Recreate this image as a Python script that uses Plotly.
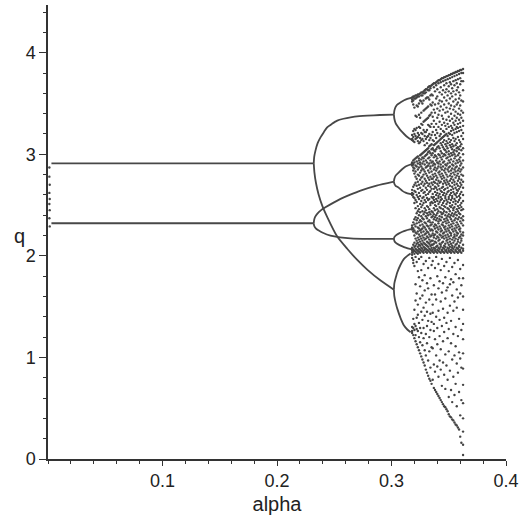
import plotly.graph_objects as go

# ---------------- orbit branches (alpha, q) ----------------
# period-2 orbit
p2_alpha = [0.003, 0.2321]
p2_upper_q = [2.911, 2.911]
p2_lower_q = [2.321, 2.321]

# transient points at the left edge
edge_alpha = [0.0012, 0.0012, 0.0015, 0.0012, 0.0015, 0.0012, 0.0015, 0.0012, 0.0015]
edge_q = [2.87, 2.78, 2.70, 2.62, 2.56, 2.51, 2.45, 2.37, 2.29]

# period-4 branches
b4_a_alpha = [0.2321, 0.2325, 0.2336, 0.2355, 0.2380, 0.2410, 0.2438, 0.2480, 0.2526, 0.2580, 0.2642, 0.2720, 0.2788, 0.2900, 0.3021]
b4_a_q = [2.911, 2.975, 3.036, 3.11, 3.167, 3.22, 3.266, 3.30, 3.332, 3.35, 3.364, 3.375, 3.381, 3.387, 3.391]
b4_b_alpha = [0.2321, 0.2327, 0.2340, 0.2362, 0.2395, 0.2441, 0.2526, 0.2613, 0.2701, 0.2788, 0.2905, 0.3021]
b4_b_q = [2.911, 2.82, 2.72, 2.61, 2.495, 2.377, 2.19, 2.07, 1.96, 1.865, 1.757, 1.667]
b4_c_alpha = [0.2321, 0.2324, 0.2333, 0.2351, 0.2385, 0.2423, 0.2490, 0.2555, 0.2640, 0.2730, 0.2870, 0.3021]
b4_c_q = [2.321, 2.352, 2.384, 2.413, 2.450, 2.478, 2.522, 2.561, 2.603, 2.643, 2.692, 2.731]
b4_d_alpha = [0.2321, 0.2324, 0.2333, 0.2345, 0.2365, 0.2400, 0.2467, 0.2550, 0.2642, 0.2800, 0.3021]
b4_d_q = [2.321, 2.30, 2.28, 2.265, 2.249, 2.228, 2.200, 2.183, 2.173, 2.168, 2.167]

# period-8 branches
b8_alpha_top = [0.3021, 0.3025, 0.3035, 0.3050, 0.3080, 0.3110, 0.3138, 0.3170, 0.3196]
b8_top_up_q = [3.391, 3.43, 3.465, 3.49, 3.512, 3.532, 3.545, 3.556, 3.561]
b8_top_dn_q = [3.391, 3.35, 3.31, 3.28, 3.235, 3.20, 3.17, 3.145, 3.135]
b8_alpha_mid = [0.3021, 0.3025, 0.3036, 0.3062, 0.3095, 0.3123, 0.3160, 0.3196]
b8_mid_up_q = [2.731, 2.76, 2.79, 2.82, 2.855, 2.879, 2.897, 2.909]
b8_mid_dn_q = [2.731, 2.71, 2.69, 2.672, 2.64, 2.623, 2.610, 2.603]
b8_low_up_q = [2.167, 2.185, 2.20, 2.219, 2.237, 2.249, 2.260, 2.269]
b8_low_dn_q = [2.167, 2.148, 2.13, 2.111, 2.094, 2.082, 2.070, 2.062]
b8_alpha_bot = [0.3021, 0.3025, 0.3036, 0.3051, 0.3080, 0.3109, 0.3138, 0.3167]
b8_bot_up_q = [1.667, 1.73, 1.78, 1.839, 1.915, 1.970, 2.000, 2.023]
b8_bot_dn_q = [1.667, 1.60, 1.54, 1.478, 1.385, 1.314, 1.275, 1.248]

# ---------------- chaotic regime: q values for each alpha column ----------------
q_318 = [3.56, 3.54, 3.52, 3.19, 3.15, 3.14, 2.92, 2.91, 2.89, 2.65, 2.62, 2.60, 2.30, 2.28, 2.26, 2.08, 2.07, 2.05, 2.03, 2.01, 1.98, 1.30, 1.26, 1.24]
q_319 = [3.57, 3.53, 3.49, 3.23, 3.17, 3.13, 2.94, 2.90, 2.87, 2.84, 2.68, 2.61, 2.58, 2.33, 2.27, 2.24, 2.11, 2.06, 2.04, 1.96, 1.93, 1.38, 1.29, 1.22]
q_320 = [3.57, 3.55, 3.46, 3.25, 3.20, 3.12, 2.95, 2.92, 2.86, 2.81, 2.70, 2.64, 2.57, 2.52, 2.36, 2.31, 2.25, 2.20, 2.13, 2.09, 2.05, 2.02, 1.90, 1.47, 1.33, 1.27, 1.19]
q_321 = [3.58, 3.55, 3.38, 3.24, 3.18, 3.15, 2.96, 2.89, 2.83, 2.78, 2.72, 2.63, 2.55, 2.47, 2.38, 2.29, 2.23, 2.17, 2.10, 2.07, 2.04, 1.99, 1.72, 1.56, 1.31, 1.22, 1.16]
q_322 = [3.58, 3.56, 3.48, 3.37, 3.26, 3.16, 2.97, 2.93, 2.88, 2.76, 2.69, 2.60, 2.53, 2.42, 2.35, 2.32, 2.22, 2.15, 2.12, 2.06, 2.03, 1.94, 1.63, 1.39, 1.28, 1.13]
q_323 = [3.59, 3.57, 3.47, 3.21, 3.17, 3.13, 2.98, 2.91, 2.85, 2.80, 2.73, 2.66, 2.58, 2.49, 2.44, 2.37, 2.28, 2.24, 2.18, 2.13, 2.09, 2.05, 2.02, 1.85, 1.52, 1.42, 1.26, 1.10]
q_324 = [3.59, 3.57, 3.50, 3.39, 3.27, 3.19, 3.11, 2.96, 2.94, 2.87, 2.79, 2.70, 2.62, 2.56, 2.46, 2.40, 2.33, 2.27, 2.21, 2.16, 2.11, 2.07, 2.04, 1.97, 1.79, 1.34, 1.20, 1.07]
q_325 = [3.60, 3.53, 3.36, 3.26, 3.16, 3.12, 2.99, 2.92, 2.90, 2.82, 2.75, 2.67, 2.59, 2.51, 2.43, 2.35, 2.30, 2.25, 2.19, 2.14, 2.10, 2.06, 2.03, 1.70, 1.58, 1.29, 1.15, 1.04]
q_326 = [3.61, 3.58, 3.52, 3.41, 3.30, 3.21, 3.14, 3.00, 2.95, 2.88, 2.84, 2.77, 2.71, 2.64, 2.54, 2.48, 2.39, 2.34, 2.26, 2.23, 2.17, 2.12, 2.08, 2.05, 1.99, 1.86, 1.45, 1.24, 1.01]
q_327 = [3.61, 3.58, 3.50, 3.29, 3.20, 3.15, 3.01, 2.97, 2.91, 2.86, 2.78, 2.73, 2.65, 2.57, 2.50, 2.44, 2.37, 2.31, 2.27, 2.20, 2.15, 2.11, 2.07, 2.04, 1.76, 1.61, 1.37, 1.12, 0.98]
q_328 = [3.62, 3.60, 3.53, 3.43, 3.32, 3.24, 3.13, 3.02, 2.96, 2.93, 2.85, 2.80, 2.69, 2.62, 2.58, 2.52, 2.41, 2.36, 2.29, 2.24, 2.18, 2.13, 2.09, 2.05, 2.03, 1.92, 1.49, 1.29, 1.19, 0.95]
q_329 = [3.63, 3.60, 3.44, 3.33, 3.22, 3.18, 3.09, 3.03, 2.98, 2.90, 2.83, 2.76, 2.71, 2.63, 2.55, 2.47, 2.43, 2.33, 2.28, 2.21, 2.16, 2.12, 2.08, 2.06, 1.81, 1.66, 1.41, 1.07, 0.92]
q_330 = [3.64, 3.61, 3.55, 3.45, 3.34, 3.22, 3.15, 3.04, 2.99, 2.94, 2.87, 2.81, 2.74, 2.67, 2.60, 2.53, 2.45, 2.39, 2.32, 2.26, 2.22, 2.17, 2.11, 2.07, 2.04, 1.95, 1.54, 1.23, 1.02, 0.88]
q_331 = [3.64, 3.56, 3.46, 3.35, 3.24, 3.17, 3.11, 3.05, 3.00, 2.92, 2.88, 2.79, 2.72, 2.65, 2.57, 2.49, 2.42, 2.37, 2.30, 2.24, 2.19, 2.14, 2.10, 2.06, 2.03, 1.73, 1.45, 1.31, 1.14, 0.85]
q_332 = [3.66, 3.63, 3.56, 3.47, 3.36, 3.29, 3.18, 3.06, 3.02, 2.96, 2.89, 2.84, 2.77, 2.69, 2.61, 2.55, 2.48, 2.40, 2.34, 2.29, 2.23, 2.18, 2.13, 2.09, 2.05, 1.88, 1.68, 1.36, 0.97, 0.82]
q_333 = [3.67, 3.63, 3.54, 3.38, 3.28, 3.20, 3.14, 3.08, 3.03, 2.97, 2.91, 2.82, 2.75, 2.71, 2.63, 2.56, 2.46, 2.43, 2.35, 2.27, 2.21, 2.16, 2.12, 2.07, 2.04, 1.98, 1.57, 1.20, 1.06, 0.79]
q_334 = [3.67, 3.65, 3.58, 3.49, 3.39, 3.27, 3.16, 3.09, 3.01, 2.94, 2.88, 2.86, 2.78, 2.68, 2.64, 2.52, 2.50, 2.41, 2.33, 2.30, 2.25, 2.19, 2.14, 2.10, 2.06, 2.03, 1.78, 1.43, 1.27, 0.90, 0.77]
q_335 = [3.68, 3.59, 3.48, 3.41, 3.30, 3.19, 3.10, 3.05, 2.99, 2.92, 2.83, 2.76, 2.72, 2.66, 2.58, 2.53, 2.44, 2.38, 2.31, 2.26, 2.20, 2.15, 2.11, 2.08, 2.05, 1.91, 1.62, 1.35, 1.10, 0.74]
q_336 = [3.69, 3.58, 3.51, 3.37, 3.22, 3.14, 2.04, 2.06, 2.11, 2.15, 2.22, 2.25, 2.33, 2.39, 2.43, 2.52, 2.57, 2.61, 2.70, 2.76, 2.80, 2.89, 2.93, 3.01, 3.06, 1.95, 1.52, 1.44, 1.09, 0.78]
q_337 = [3.70, 3.66, 3.44, 3.33, 3.27, 3.13, 2.03, 2.08, 2.12, 2.18, 2.20, 2.29, 2.36, 2.41, 2.47, 2.55, 2.58, 2.66, 2.73, 2.78, 2.85, 2.91, 2.97, 3.04, 3.09, 1.71, 1.33, 1.26, 0.93, 0.70]
q_338 = [3.70, 3.62, 3.49, 3.41, 3.19, 2.05, 2.07, 2.14, 2.21, 2.27, 2.31, 2.38, 2.45, 2.50, 2.53, 2.63, 2.68, 2.72, 2.81, 2.87, 2.90, 2.99, 3.03, 3.10, 1.88, 1.62, 1.18, 0.86, 0.68]
q_339 = [3.71, 3.68, 3.55, 3.30, 3.24, 3.16, 2.04, 2.09, 2.13, 2.17, 2.24, 2.30, 2.35, 2.40, 2.49, 2.56, 2.60, 2.67, 2.75, 2.79, 2.84, 2.94, 2.98, 3.05, 3.11, 1.99, 1.57, 1.40, 1.02, 0.66]
q_340 = [3.72, 3.64, 3.57, 3.45, 3.36, 3.21, 2.03, 2.06, 2.10, 2.19, 2.23, 2.28, 2.37, 2.42, 2.46, 2.54, 2.62, 2.65, 2.71, 2.77, 2.86, 2.92, 2.96, 3.07, 3.12, 1.80, 1.29, 1.13, 0.91, 0.64]
q_341 = [3.73, 3.70, 3.50, 3.39, 3.27, 2.05, 2.08, 2.15, 2.18, 2.26, 2.32, 2.34, 2.44, 2.51, 2.57, 2.59, 2.69, 2.74, 2.82, 2.88, 2.91, 3.00, 3.08, 3.13, 1.92, 1.68, 1.46, 0.81, 0.62]
q_342 = [3.73, 3.61, 3.53, 3.43, 3.32, 3.18, 2.04, 2.07, 2.12, 2.16, 2.21, 2.29, 2.36, 2.39, 2.48, 2.53, 2.61, 2.66, 2.72, 2.80, 2.83, 2.93, 2.99, 3.06, 3.14, 1.75, 1.37, 1.21, 0.97, 0.60]
q_343 = [3.74, 3.71, 3.66, 3.47, 3.25, 3.20, 2.03, 2.09, 2.11, 2.20, 2.24, 2.27, 2.35, 2.43, 2.47, 2.55, 2.58, 2.64, 2.73, 2.78, 2.87, 2.90, 2.97, 3.03, 3.11, 3.15, 1.86, 1.55, 1.08, 0.88, 0.58]
q_344 = [3.75, 3.59, 3.52, 3.38, 3.29, 2.05, 2.06, 2.13, 2.18, 2.25, 2.31, 2.38, 2.41, 2.50, 2.56, 2.63, 2.67, 2.76, 2.81, 2.85, 2.95, 3.01, 3.09, 3.16, 1.97, 1.64, 1.31, 0.72, 0.56]
q_345 = [3.75, 3.72, 3.63, 3.44, 3.35, 3.23, 2.04, 2.08, 2.14, 2.19, 2.22, 2.30, 2.33, 2.42, 2.46, 2.52, 2.60, 2.68, 2.71, 2.79, 2.88, 2.92, 2.98, 3.07, 3.12, 3.17, 1.73, 1.48, 1.16, 0.95, 0.54]
q_346 = [3.76, 3.68, 3.56, 3.49, 3.31, 3.22, 2.03, 2.07, 2.10, 2.17, 2.23, 2.28, 2.36, 2.44, 2.49, 2.54, 2.62, 2.65, 2.74, 2.77, 2.84, 2.93, 3.00, 3.05, 3.14, 3.18, 1.90, 1.39, 1.25, 0.83, 0.52]
q_347 = [3.76, 3.73, 3.61, 3.41, 3.28, 2.05, 2.09, 2.12, 2.20, 2.26, 2.29, 2.34, 2.40, 2.48, 2.57, 2.59, 2.66, 2.72, 2.82, 2.86, 2.90, 2.99, 3.04, 3.10, 3.19, 1.79, 1.58, 1.03, 0.69, 0.51]
q_348 = [3.77, 3.70, 3.64, 3.53, 3.46, 3.34, 3.25, 2.04, 2.06, 2.15, 2.18, 2.24, 2.32, 2.37, 2.43, 2.51, 2.55, 2.61, 2.70, 2.75, 2.80, 2.89, 2.96, 3.02, 3.08, 3.13, 3.20, 1.94, 1.66, 1.34, 0.92, 0.49]
q_349 = [3.77, 3.74, 3.58, 3.42, 3.30, 2.03, 2.08, 2.13, 2.16, 2.21, 2.27, 2.35, 2.39, 2.47, 2.53, 2.63, 2.67, 2.73, 2.78, 2.85, 2.91, 2.97, 3.06, 3.11, 3.18, 1.69, 1.44, 1.19, 0.78, 0.47]
q_350 = [3.78, 3.67, 3.62, 3.50, 3.37, 3.27, 2.05, 2.07, 2.11, 2.19, 2.25, 2.30, 2.33, 2.41, 2.46, 2.56, 2.58, 2.64, 2.71, 2.83, 2.87, 2.94, 3.00, 3.03, 3.15, 3.21, 1.85, 1.28, 1.06, 0.61, 0.44]
q_351 = [3.78, 3.75, 3.71, 3.55, 3.45, 3.33, 2.04, 2.09, 2.14, 2.17, 2.23, 2.28, 2.38, 2.44, 2.49, 2.52, 2.60, 2.69, 2.74, 2.79, 2.88, 2.92, 2.98, 3.09, 3.12, 3.20, 1.98, 1.72, 1.51, 0.87, 0.42]
q_352 = [3.79, 3.69, 3.60, 3.48, 3.40, 3.28, 2.03, 2.06, 2.12, 2.20, 2.22, 2.31, 2.36, 2.40, 2.48, 2.55, 2.62, 2.65, 2.76, 2.81, 2.84, 2.95, 3.01, 3.07, 3.14, 3.23, 1.77, 1.36, 1.14, 0.68, 0.41]
q_353 = [3.79, 3.76, 3.65, 3.57, 3.35, 3.26, 2.05, 2.08, 2.10, 2.16, 2.26, 2.29, 2.34, 2.42, 2.50, 2.57, 2.59, 2.68, 2.72, 2.78, 2.86, 2.90, 2.99, 3.05, 3.10, 3.19, 1.89, 1.61, 0.98, 0.56, 0.39]
q_354 = [3.80, 3.72, 3.62, 3.52, 3.44, 3.31, 2.04, 2.07, 2.13, 2.18, 2.24, 2.32, 2.39, 2.45, 2.47, 2.53, 2.63, 2.66, 2.75, 2.82, 2.89, 2.93, 3.02, 3.08, 3.16, 3.24, 1.74, 1.46, 1.23, 0.81, 0.38]
q_355 = [3.80, 3.77, 3.68, 3.47, 3.38, 3.29, 2.03, 2.09, 2.15, 2.19, 2.21, 2.27, 2.35, 2.41, 2.48, 2.56, 2.61, 2.70, 2.73, 2.80, 2.85, 2.96, 3.00, 3.04, 3.13, 3.21, 1.93, 1.55, 1.02, 0.63, 0.36]
q_356 = [3.81, 3.73, 3.59, 3.54, 3.42, 3.33, 2.05, 2.06, 2.11, 2.17, 2.25, 2.30, 2.37, 2.43, 2.51, 2.54, 2.60, 2.67, 2.77, 2.83, 2.87, 2.91, 2.98, 3.09, 3.15, 3.25, 1.82, 1.30, 1.11, 0.74, 0.34]
q_357 = [3.81, 3.78, 3.70, 3.63, 3.49, 3.36, 3.27, 2.04, 2.08, 2.12, 2.20, 2.23, 2.28, 2.33, 2.40, 2.46, 2.58, 2.62, 2.65, 2.71, 2.79, 2.88, 2.94, 3.03, 3.06, 3.11, 3.22, 1.67, 1.49, 0.94, 0.52, 0.33]
q_358 = [3.82, 3.74, 3.66, 3.51, 3.40, 3.30, 2.03, 2.07, 2.14, 2.16, 2.22, 2.31, 2.36, 2.44, 2.49, 2.53, 2.64, 2.69, 2.74, 2.81, 2.84, 2.92, 2.99, 3.07, 3.17, 3.26, 1.96, 1.59, 1.21, 0.85, 0.31]
q_359 = [3.82, 3.79, 3.61, 3.55, 3.45, 3.34, 2.05, 2.09, 2.10, 2.18, 2.26, 2.29, 2.38, 2.42, 2.47, 2.55, 2.59, 2.66, 2.76, 2.78, 2.86, 2.95, 3.01, 3.05, 3.14, 3.23, 1.78, 1.38, 1.05, 0.66, 0.29]
q_360 = [3.83, 3.75, 3.69, 3.58, 3.48, 3.39, 3.31, 2.04, 2.06, 2.13, 2.19, 2.24, 2.27, 2.34, 2.41, 2.50, 2.57, 2.61, 2.68, 2.72, 2.83, 2.89, 2.93, 2.97, 3.08, 3.12, 3.27, 1.87, 1.63, 0.99, 0.43, 0.22]
q_361 = [3.83, 3.80, 3.72, 3.53, 3.43, 3.36, 2.03, 2.08, 2.15, 2.17, 2.21, 2.32, 2.37, 2.45, 2.48, 2.52, 2.63, 2.70, 2.75, 2.80, 2.85, 2.91, 3.04, 3.10, 3.18, 3.24, 1.71, 1.27, 0.90, 0.58, 0.16]
q_362 = [3.84, 3.80, 3.72, 3.63, 3.52, 3.41, 3.33, 2.05, 2.07, 2.11, 2.20, 2.23, 2.30, 2.35, 2.39, 2.46, 2.54, 2.60, 2.67, 2.73, 2.79,
         2.87, 2.94, 3.00, 3.06, 3.15, 3.21, 3.28, 1.91, 1.78, 1.60, 1.47, 1.33, 1.18, 1.04, 0.89, 0.73, 0.55, 0.40, 0.27, 0.14, 0.04]

chaos_alpha = [0.318, 0.319, 0.320, 0.321, 0.322, 0.323, 0.324, 0.325, 0.326, 0.327, 0.328, 0.329, 0.330, 0.331, 0.332,
               0.333, 0.334, 0.335, 0.336, 0.337, 0.338, 0.339, 0.340, 0.341, 0.342, 0.343, 0.344, 0.345, 0.346, 0.347,
               0.348, 0.349, 0.350, 0.351, 0.352, 0.353, 0.354, 0.355, 0.356, 0.357, 0.358, 0.359, 0.360, 0.361, 0.3625]
chaos_columns = [q_318, q_319, q_320, q_321, q_322, q_323, q_324, q_325, q_326, q_327, q_328, q_329, q_330, q_331, q_332,
                 q_333, q_334, q_335, q_336, q_337, q_338, q_339, q_340, q_341, q_342, q_343, q_344, q_345, q_346, q_347,
                 q_348, q_349, q_350, q_351, q_352, q_353, q_354, q_355, q_356, q_357, q_358, q_359, q_360, q_361, q_362]

# axis ticks
x_tick_vals = [0.1, 0.2, 0.3, 0.4]
x_tick_text = ["0.1", "0.2", "0.3", "0.4"]
y_tick_vals = [0, 1, 2, 3, 4]
y_tick_text = ["0", "1", "2", "3", "4"]

LINE_COLOR = "#474747"
DOT_COLOR = "#444444"
AXIS_COLOR = "#333333"
FONT = "Liberation Sans, Arial, sans-serif"

fig = go.Figure()


def add_branch(xs, ys, shape="spline"):
    fig.add_trace(go.Scatter(x=xs, y=ys, mode="lines",
                             line=dict(color=LINE_COLOR, width=1.8, shape=shape, smoothing=0.6),
                             hoverinfo="skip", showlegend=False))


add_branch(p2_alpha, p2_upper_q, "linear")
add_branch(p2_alpha, p2_lower_q, "linear")
add_branch(b4_a_alpha, b4_a_q)
add_branch(b4_b_alpha, b4_b_q)
add_branch(b4_c_alpha, b4_c_q)
add_branch(b4_d_alpha, b4_d_q)
add_branch(b8_alpha_top, b8_top_up_q)
add_branch(b8_alpha_top, b8_top_dn_q)
add_branch(b8_alpha_mid, b8_mid_up_q)
add_branch(b8_alpha_mid, b8_mid_dn_q)
add_branch(b8_alpha_mid, b8_low_up_q)
add_branch(b8_alpha_mid, b8_low_dn_q)
add_branch(b8_alpha_bot, b8_bot_up_q)
add_branch(b8_alpha_bot, b8_bot_dn_q)

# scattered points of the chaotic regime
cx, cy = [], []
for a, col in zip(chaos_alpha, chaos_columns):
    for q in col:
        cx.append(a)
        cy.append(q)
cx += edge_alpha
cy += edge_q

fig.add_trace(go.Scatter(x=cx, y=cy, mode="markers",
                         marker=dict(color=DOT_COLOR, size=2.4, line=dict(width=0)),
                         hoverinfo="skip", showlegend=False))

fig.update_layout(
    width=524, height=521,
    margin=dict(l=48, r=18, t=5, b=62),
    paper_bgcolor="white", plot_bgcolor="white",
    font=dict(family=FONT, size=18, color="#222222"),
    showlegend=False,
    xaxis=dict(range=[0, 0.4], showgrid=False, zeroline=False,
               showline=True, linecolor=AXIS_COLOR, linewidth=1.5,
               ticks="outside", ticklen=5, tickwidth=1.2, tickcolor=AXIS_COLOR,
               tickvals=x_tick_vals, ticktext=x_tick_text,
               minor=dict(dtick=0.02, ticks="outside", ticklen=3, tickcolor=AXIS_COLOR, tickwidth=1),
               title=dict(text="alpha", font=dict(size=20), standoff=7)),
    yaxis=dict(range=[0, 4.47], showgrid=False, zeroline=False,
               showline=True, linecolor=AXIS_COLOR, linewidth=1.5,
               ticks="outside", ticklen=7, tickwidth=1.2, tickcolor=AXIS_COLOR,
               tickvals=y_tick_vals, ticktext=y_tick_text,
               minor=dict(dtick=0.2, ticks="outside", ticklen=3, tickcolor=AXIS_COLOR, tickwidth=1)),
    annotations=[dict(text="q", x=0, xref="paper", xshift=-36, y=2.2, yref="y",
                      showarrow=False, font=dict(size=20, family=FONT, color="#222222"))],
)

fig.write_html("out.html")
